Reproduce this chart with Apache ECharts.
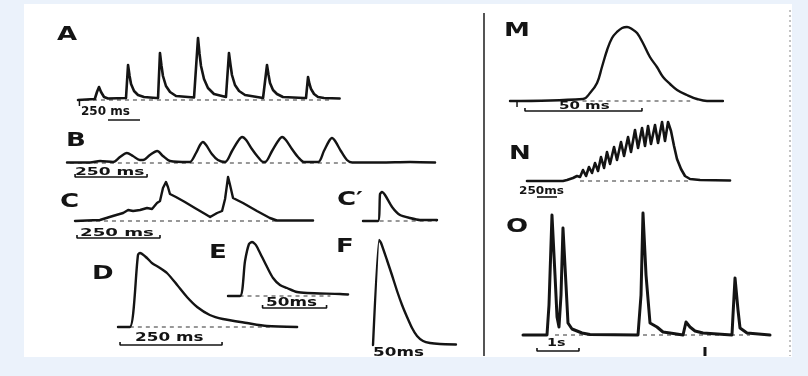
<!DOCTYPE html>
<html><head><meta charset="utf-8">
<script src="https://cdn.jsdelivr.net/npm/echarts@6/dist/echarts.min.js"></script>
<style>html,body{margin:0;padding:0;background:#ebf2fb}#c{width:808px;height:376px}</style>
</head><body><div id="c"></div>
<script>
// ---- data: time (ms, or s for O) and relative amplitude ----
const A_time = [0,140,158,175,192,217,250,400,417,430,442,467,500,550,650,667,683,696,708,733,767,817,967,983,1000,1013,1025,1050,1083,1133,1233,1242,1258,1271,1283,1308,1342,1392,1542,1558,1575,1588,1600,1625,1658,1708,1883,1900,1917,1929,1942,1967,2000,2050,2180];
const A_amp  = [0,1,8,13,8,3,1.5,2,35,24,16,9,5,3,2,2,47,34,24,14,8,4,2.5,3,62,46,34,21,12,6,3,3,47,35,25,15,9,5,2,2,35,25,17,10,6,3,2,2,23,16,11,6,3,2,1.5];
const B_time = [0,80,115,160,184,208,229,253,264,288,313,333,358,420,427,448,462,472,483,503,524,549,573,594,608,622,642,663,681,688,712,733,747,760,781,802,823,872,892,910,920,931,951,972,990,1087,1191,1278];
const B_amp  = [0.5,0.5,2,1,6,10,7,3,3,8,12,7,2,1,1,10,18,21,18,9,3,1,12,22,26,23,14,6,1,1,12,22,26,23,14,6,1,1,12,22,25,22,12,3,0.5,0.5,1,0.5];
const C_time = [0,36,75,114,145,160,175,196,217,232,247,256,265,274,280,286,304,331,361,392,407,428,443,452,461,467,476,506,548,587,608,717];
const C_amp  = [0,0.5,1,5,8,11,10,11,13,12,18,20,33,39,34,27,24,19,13,7,4,8,10,22,44,36,23,18,10,3,0.5,0.5];
const Cp_time = [0,11.7,13.3,14.8,17.2,22.7,28.9,36.7,44.5,57.8];
const Cp_amp  = [0,0,27,29,26,14,6,3,1,1];
const D_time = [0,29,49,54,71,83,103,120,145,169,194,225,257,316,365,439];
const D_amp  = [0,0,72,74,69,64,59,54,42,30,20,12,8,4,1,0];
const E_time = [0,9.4,13.3,16.4,18.8,21.1,22.7,26.6,30.5,35.2,40.6,46.1,53.9,61.7,87.5,93.8];
const E_amp  = [0,0,35,52,54,52,49,39,29,18,11,8,4,3,2,1.5];
const F_time = [0,4.7,6.3,10.9,14.8,18.8,22.7,26.6,30.5,34.4,39.1,44.5,52.3,64.8];
const F_amp  = [0,105,102,85,70,54,40,28,17,9,4,2,1,0.5];
const M_time = [0,31.2,34.2,37.2,39.3,41.5,43.6,45.7,47.9,50,52.1,54.3,56.8,59.8,62.8,65.4,68.4,71.4,75.6,79.9,84.2,91];
const M_amp  = [0,2,8,18,34,51,63,69,73,74,72,68,58,44,34,24,17,11,6,2,0,0];
const N_time = [0,450,500,575,625,663,700,738,775,813,850,888,925,963,1000,1038,1088,1125,1175,1213,1263,1300,1350,1388,1438,1475,1513,1550,1600,1638,1688,1725,1763,1800,1838,1875,1925,1975,2038,2163,2538];
const N_amp  = [0,0,1,3,5,4,11,5,14,8,18,10,24,13,29,17,34,21,39,25,44,29,51,33,53,35,55,37,56,38,59,40,59,50,35,22,12,5,2,1,0.5];
const O_time = [0,0.571,0.619,0.690,0.762,0.810,0.857,0.905,0.952,1.024,1.071,1.167,1.286,1.405,1.595,2.738,2.810,2.857,2.929,3.024,3.190,3.333,3.500,3.810,3.881,3.976,4.095,4.286,4.976,5.000,5.048,5.119,5.167,5.333,5.881];
const O_amp  = [0,0,30,120,60,18,8,40,107,50,12,6,4,2,0.5,0,40,122,60,12,8,3,2,0,13,8,4,2,0,20,57,25,7,2,0];

const panelNames = ['A','B','C','Cp','D','E','F','M','N','O'];
const scaleTexts = ['250 ms','250 ms','250 ms','','250 ms','50ms','50ms','50 ms','250ms','1s'];
const letterTexts = ['A','B','C','C\u2032','D','E','F','M','N','O'];

const traces = {A:[A_time,A_amp],B:[B_time,B_amp],C:[C_time,C_amp],Cp:[Cp_time,Cp_amp],D:[D_time,D_amp],
  E:[E_time,E_amp],F:[F_time,F_amp],M:[M_time,M_amp],N:[N_time,N_amp],O:[O_time,O_amp]};

// ---- layout (pixels) ----
const layout = {
  A:{x0:78,y0:100,sx:0.12,tMin:0,tMax:2200,vMin:-25,vMax:70,dash:[58,2100],bar:[250,517,-20,false],tick:[12,0,-6,1.5],lw:2.6},
  B:{x0:67,y0:163,sx:0.288,tMin:0,tMax:1300,vMin:-20,vMax:30,dash:[10,983],bar:[28,278,-14,true],smooth:0.3},
  C:{x0:75,y0:221,sx:0.332,tMin:0,tMax:720,vMin:-20,vMax:50,dash:[15,617],bar:[6,256,-17,true]},
  Cp:{x0:363,y0:221,sx:1.28,tMin:0,tMax:60,vMin:-5,vMax:35,dash:[13,58],smooth:0.2},
  D:{x0:118,y0:327,sx:0.408,tMin:0,tMax:440,vMin:-20,vMax:80,dash:[29,373],bar:[5,255,-18,true],smooth:0.25},
  E:{x0:228,y0:296,sx:1.28,tMin:0,tMax:95,vMin:-15,vMax:60,dash:[9,80],bar:[27,77,-12,true],smooth:0.25},
  F:{x0:373,y0:345,sx:1.28,tMin:0,tMax:66,vMin:-5,vMax:110,smooth:0.15},
  M:{x0:510,y0:101,sx:2.34,tMin:0,tMax:92,vMin:-15,vMax:80,dash:[31,77],bar:[6.4,56.4,-10,true],tick:[3,0,-6,1.5],smooth:0.4},
  N:{x0:527,y0:181,sx:0.08,tMin:0,tMax:2540,vMin:-20,vMax:65,dash:[663,2038],bar:[125,375,-16,false],lw:2.6},
  O:{x0:523,y0:335,sx:42,tMin:0,tMax:5.9,vMin:-25,vMax:125,dash:[0.762,5.405],bar:[0.333,1.333,-16,true],tick:[4.333,-12,-21,3],lw:3}
};
const letterPos = {A:[57,34.5],B:[66,141],C:[60,201.5],Cp:[337,200],D:[92,274],E:[209,252.5],F:[336,247],M:[504,30.5],N:[509,153.5],O:[506,226.5]};
const scalePos = {A:[81,112,12,1],B:[75,172,11,1.55],C:[80,233,11,1.65],D:[135,337.5,12,1.4],E:[266,302.5,12,1.4],
  F:[373,352.5,12,1.4],M:[559,106.5,10,1.5],N:[519,191,11,1.1],O:[547,343,11,1.3]};

const ink = '#141414';
const grids=[], xAxes=[], yAxes=[], series=[], graphics=[];
graphics.push({type:'rect',shape:{x:24,y:4,width:768,height:353},style:{fill:'#ffffff'},z:-10});
graphics.push({type:'line',shape:{x1:484,y1:13,x2:484,y2:356},style:{stroke:'#2a2a2a',lineWidth:1.6}});
graphics.push({type:'line',shape:{x1:790,y1:10,x2:790,y2:356},style:{stroke:'#888',lineWidth:1,lineDash:[2,3]}});

panelNames.forEach((k,i)=>{
  const L = layout[k];
  grids.push({left:L.x0+L.tMin*L.sx, top:L.y0-L.vMax, width:(L.tMax-L.tMin)*L.sx, height:L.vMax-L.vMin, containLabel:false});
  xAxes.push({type:'value',gridIndex:i,min:L.tMin,max:L.tMax,show:false});
  yAxes.push({type:'value',gridIndex:i,min:L.vMin,max:L.vMax,show:false});
  const [t,v] = traces[k];
  const base = {type:'line',xAxisIndex:i,yAxisIndex:i,showSymbol:false,symbol:'none',clip:false,silent:true,animation:false};
  if (L.dash) series.push(Object.assign({},base,{z:1,data:[[L.dash[0],0],[L.dash[1],0]],lineStyle:{color:'#333',width:1,type:[4,4]}}));
  series.push(Object.assign({},base,{z:3,smooth:L.smooth||false,data:t.map((x,j)=>[x,v[j]]),lineStyle:{color:ink,width:L.lw||2.4,join:'round',cap:'round'}}));
  if (L.bar) {
    const [b0,b1,bv,br] = L.bar;
    const d = br ? [[b0,bv+3],[b0,bv],[b1,bv],[b1,bv+3]] : [[b0,bv],[b1,bv]];
    series.push(Object.assign({},base,{z:3,data:d,lineStyle:{color:ink,width:1.6}}));
  }
  if (L.tick) {
    const [tt,v0,v1,w] = L.tick;
    series.push(Object.assign({},base,{z:3,data:[[tt,v0],[tt,v1]],lineStyle:{color:ink,width:w}}));
  }
  const lp = letterPos[k];
  graphics.push({type:'text',x:lp[0],y:lp[1],scaleX:1.3,style:{text:letterTexts[i],fontSize:20,fontWeight:'bold',fontFamily:'DejaVu Sans',fill:ink,align:'left',verticalAlign:'middle'}});
  if (scaleTexts[i]) {
    const sp = scalePos[k];
    graphics.push({type:'text',x:sp[0],y:sp[1],scaleX:sp[3],style:{text:scaleTexts[i],fontSize:sp[2],fontWeight:'bold',fontFamily:'DejaVu Sans',fill:ink,align:'left',verticalAlign:'middle'}});
  }
});

const chart = echarts.init(document.getElementById('c'),null,{renderer:'canvas'});
chart.setOption({backgroundColor:'#ebf2fb',animation:false,grid:grids,xAxis:xAxes,yAxis:yAxes,series:series,graphic:graphics});
</script></body></html>
